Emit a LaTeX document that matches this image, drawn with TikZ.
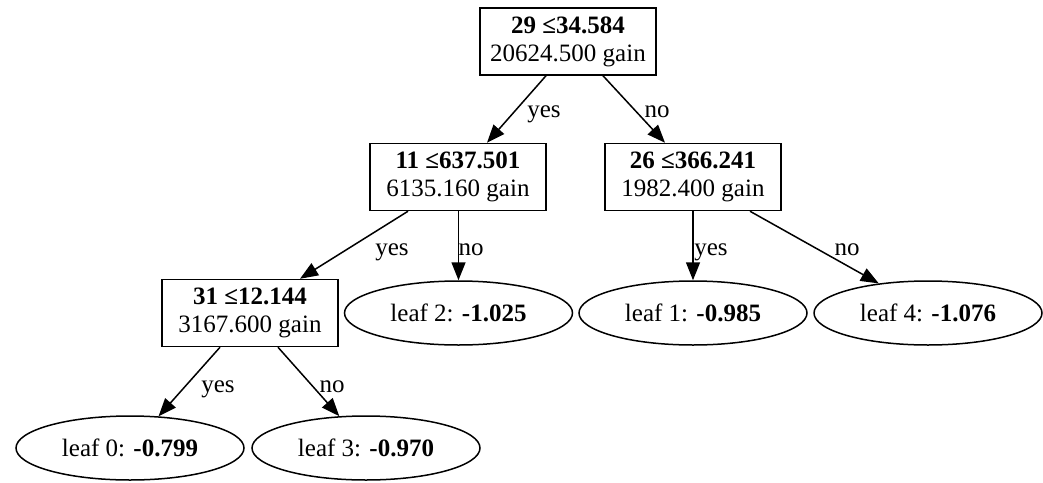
\documentclass[tikz,border=0pt]{standalone}
\usepackage{fontspec}
\setmainfont{Liberation Serif}
\usepackage{tikz}
\usetikzlibrary{arrows.meta}
\usetikzlibrary{shapes.geometric}
\tikzset{
    split/.style={
        draw,
        rectangle,
        line width=0.75pt,
        minimum width=88pt,
        minimum height=33.5pt,
        inner sep=0pt,
        align=center,
        font=\fontsize{12.5}{14}\selectfont
    },
    leaf/.style={
        draw,
        ellipse,
        line width=0.75pt,
        minimum width=114pt,
        minimum height=32pt,
        inner sep=0pt,
        font=\fontsize{12.5}{14}\selectfont
    },
    branch/.style={
        draw,
        line width=0.75pt,
        -{Triangle[length=9pt, width=7pt]}
    },
    lbl/.style={
        anchor=base,
        inner sep=0pt,
        font=\fontsize{12.5}{14}\selectfont
    }
}

\begin{document}
\begin{tikzpicture}[x=0.5pt, y=-0.5pt]
  \useasboundingbox (0,0) rectangle (1043,482);

  % split nodes
  \node[split] (n0) at (568,41.5) {\textbf{29 ≤34.584}\\20624.500 gain};
  \node[split] (n1) at (458,177) {\textbf{11 ≤637.501}\\6135.160 gain};
  \node[split] (n2) at (693,177) {\textbf{26 ≤366.241}\\1982.400 gain};
  \node[split] (n3) at (250,313) {\textbf{31 ≤12.144}\\3167.600 gain};

  % leaves
  \node[leaf] (l2) at (458.5,313) {leaf 2: \textbf{-1.025}};
  \node[leaf] (l1) at (693,313) {leaf 1: \textbf{-0.985}};
  \node[leaf] (l4) at (928,313) {leaf 4: \textbf{-1.076}};
  \node[leaf] (l0) at (130,448) {leaf 0: \textbf{-0.799}};
  \node[leaf] (l3) at (366,448) {leaf 3: \textbf{-0.970}};

  % branches
  \draw[branch] ([xshift=-11pt]n0.south) -- ([xshift=14.5pt]n1.north) node[lbl] at (544,117) {yes};
  \draw[branch] ([xshift=17.5pt]n0.south) -- ([xshift=-14pt]n2.north) node[lbl] at (657,117) {no};
  \draw[branch] ([xshift=-25pt]n1.south) -- ([xshift=25pt]n3.north) node[lbl] at (392,255) {yes};
  \draw[branch] ([xshift=0.25pt]n1.south) -- (l2.north) node[lbl] at (471,255) {no};
  \draw[branch] (n2.south) -- (l1.north) node[lbl] at (711,255) {yes};
  \draw[branch] ([xshift=28.5pt]n2.south) -- (l4.149) node[lbl] at (847,255) {no};
  \draw[branch] ([xshift=-15pt]n3.south) -- (l0.48) node[lbl] at (218,392) {yes};
  \draw[branch] ([xshift=14pt]n3.south) -- (l3.130) node[lbl] at (332,392) {no};
\end{tikzpicture}
\end{document}
